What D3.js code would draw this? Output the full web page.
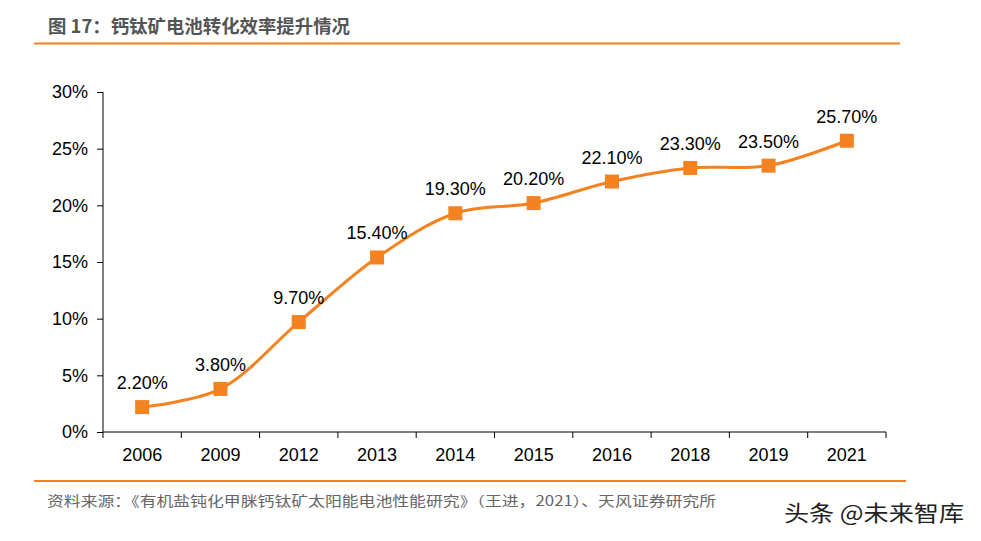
<!DOCTYPE html>
<html><head><meta charset="utf-8">
<script src="https://cdn.jsdelivr.net/npm/d3@7"></script>
<style>body{margin:0;background:#fff}</style>
</head><body>
<svg id="c" width="981" height="541"></svg>
<script>
const categories = ["2006","2009","2012","2013","2014","2015","2016","2018","2019","2021"];
const values = [2.2,3.8,9.7,15.4,19.3,20.2,22.1,23.3,23.5,25.7];
const yTicks = [0,5,10,15,20,25,30];
const title = "图 17：钙钛矿电池转化效率提升情况";
const source = "资料来源：《有机盐钝化甲脒钙钛矿太阳能电池性能研究》（王进，2021）、天风证券研究所";
const watermark = "头条 @未来智库";

const orange = "#F58220";
const svg = d3.select("#c");
const font = "'Liberation Sans', Arial, sans-serif";
const cjk = "'Noto Sans CJK SC', sans-serif";

svg.append("text").attr("x",48).attr("y",33).attr("font-family",cjk)
  .attr("font-size",18).attr("font-weight","bold").attr("fill","#555")
  .attr("textLength",302).attr("lengthAdjust","spacingAndGlyphs").text(title);
svg.append("line").attr("x1",34).attr("x2",900).attr("y1",43.5).attr("y2",43.5).attr("stroke",orange).attr("stroke-width",2);
svg.append("line").attr("x1",34).attr("x2",906).attr("y1",481).attr("y2",481).attr("stroke",orange).attr("stroke-width",2);
svg.append("text").attr("x",47).attr("y",506).attr("font-family",cjk)
  .attr("font-size",14).attr("fill","#666")
  .attr("textLength",669).attr("lengthAdjust","spacingAndGlyphs").text(source);
svg.append("text").attr("x",784).attr("y",521).attr("font-family",cjk)
  .attr("font-size",22).attr("fill","#222")
  .attr("textLength",180).attr("lengthAdjust","spacingAndGlyphs").text(watermark);

const x = d3.scaleBand().domain(categories).range([103,886]);
const y = d3.scaleLinear().domain([0,30]).range([432,92]);

const xAxis = svg.append("g").attr("transform","translate(0,432)")
  .call(d3.axisBottom(x).tickSize(0).tickPadding(16));
xAxis.select(".domain").attr("stroke","#000").attr("d","M103,0H886");
xAxis.selectAll("text").attr("font-family",font).attr("font-size",18).attr("fill","#000");
const bounds = categories.map(c=>x(c)).concat([886]);
xAxis.selectAll(".bt").data(bounds).enter().append("line").attr("class","bt")
  .attr("x1",d=>d).attr("x2",d=>d).attr("y1",0).attr("y2",6).attr("stroke","#000");

const yAxis = svg.append("g").attr("transform","translate(103,0)")
  .call(d3.axisLeft(y).tickValues(yTicks).tickFormat(d=>d+"%").tickSize(6).tickPadding(9));
yAxis.select(".domain").attr("stroke","#000").attr("d","M0,432V92");
yAxis.selectAll(".tick line").attr("stroke","#000");
yAxis.selectAll("text").attr("font-family",font).attr("font-size",18).attr("fill","#000");

const cx = c => x(c)+x.bandwidth()/2;
const pts = categories.map((c,i)=>[cx(c), y(values[i])]);
svg.append("path").attr("d", d3.line().curve(d3.curveCatmullRom.alpha(0.5))(pts))
  .attr("fill","none").attr("stroke",orange).attr("stroke-width",3);
svg.selectAll(".m").data(pts).enter().append("rect")
  .attr("x",d=>d[0]-7).attr("y",d=>d[1]-7).attr("width",14).attr("height",14).attr("fill",orange);
svg.selectAll(".lb").data(categories).enter().append("text")
  .attr("x",c=>cx(c)).attr("y",(c,i)=>y(values[i])-18).attr("text-anchor","middle")
  .attr("font-family",font).attr("font-size",18).attr("fill","#000")
  .text((c,i)=>values[i].toFixed(2)+"%");
</script>
</body></html>
